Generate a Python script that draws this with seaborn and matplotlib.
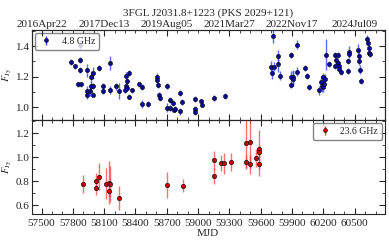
import numpy as np
import pandas as pd
import matplotlib
matplotlib.use("Agg")
import matplotlib.pyplot as plt
from matplotlib.ticker import MultipleLocator, FixedLocator
import seaborn as sns

title = "3FGL J2031.8+1223 (PKS 2029+121)"

mjd_48 = [57780, 57817, 57846, 57872, 57872, 57872, 57874, 57937, 57937, 57932,
          57966, 57970, 57975, 57997, 57997, 57997, 58055, 58090, 58090, 58153,
          58153, 58212, 58241, 58305, 58305, 58302, 58316, 58321, 58337, 58337,
          58369, 58431, 58458, 58458, 58522, 58609, 58611, 58612, 58630, 58635,
          58702, 58702, 58727, 58731, 58756, 58765, 58779, 58828, 58828, 58849,
          58969, 58969, 58969, 59024, 59041, 59156, 59255, 59722, 59703, 59729,
          59710, 59766, 59766, 59783, 59886, 59945, 59886, 59895, 59905, 59914,
          59946, 60020, 60042, 60058, 60154, 60178, 60186, 60196, 60196, 60207,
          60215, 60228, 60253, 60308, 60313, 60324, 60337, 60342, 60350, 60353,
          60366, 60433, 60438, 60447, 60449, 60534, 60539, 60541, 60551, 60564,
          60618, 60632, 60634, 60634, 60644]
flux_48 = [1.295, 1.268, 1.150, 1.408, 1.308, 1.241, 1.150, 1.241, 1.107, 1.082,
           1.107, 1.200, 1.140, 1.222, 1.137, 1.082, 1.259, 1.137, 1.107, 1.287,
           1.114, 1.136, 1.107, 1.207, 1.140, 1.113, 1.125, 1.174, 1.222, 1.069,
           1.111, 1.150, 1.135, 1.022, 1.022, 1.196, 1.180, 1.145, 1.080, 1.059,
           1.141, 0.998, 1.045, 0.997, 1.028, 0.985, 0.992, 1.095, 0.973, 1.035,
           1.056, 0.990, 0.967, 1.040, 1.017, 1.063, 1.072, 1.463, 1.264, 1.264,
           1.222, 1.335, 1.281, 1.207, 1.344, 1.410, 1.145, 1.198, 1.197, 1.187,
           1.233, 1.255, 1.207, 1.134, 1.110, 1.165, 1.140, 1.130, 1.196, 1.155,
           1.185, 1.344, 1.281, 1.344, 1.272, 1.311, 1.344, 1.287, 1.272, 1.250,
           1.229, 1.301, 1.238, 1.363, 1.347, 1.372, 1.335, 1.305, 1.247, 1.171,
           1.444, 1.422, 1.390, 1.357, 1.348]
err_48 = [0.020, 0.015, 0.015, 0.030, 0.020, 0.020, 0.015, 0.040, 0.030, 0.025,
          0.030, 0.040, 0.025, 0.040, 0.020, 0.015, 0.020, 0.020, 0.020, 0.045,
          0.025, 0.020, 0.050, 0.025, 0.025, 0.020, 0.020, 0.020, 0.020, 0.015,
          0.015, 0.015, 0.020, 0.025, 0.020, 0.030, 0.025, 0.020, 0.020, 0.020,
          0.020, 0.030, 0.020, 0.020, 0.020, 0.015, 0.015, 0.020, 0.020, 0.020,
          0.020, 0.020, 0.015, 0.015, 0.015, 0.020, 0.020, 0.040, 0.040, 0.030,
          0.040, 0.040, 0.050, 0.030, 0.020, 0.030, 0.020, 0.040, 0.050, 0.050,
          0.030, 0.020, 0.020, 0.020, 0.030, 0.040, 0.040, 0.030, 0.030, 0.030,
          0.030, 0.100, 0.020, 0.020, 0.020, 0.030, 0.020, 0.020, 0.020, 0.020,
          0.020, 0.020, 0.020, 0.040, 0.020, 0.040, 0.040, 0.030, 0.030, 0.020,
          0.030, 0.020, 0.020, 0.020, 0.020]

mjd_236 = [57901, 58023, 58023, 58055, 58122, 58151, 58155, 58151, 58241, 58702,
           58855, 59156, 59156, 59223, 59252, 59313, 59463, 59495, 59463, 59495,
           59559, 59588, 59588, 59588]
flux_236 = [0.775, 0.800, 0.742, 0.838, 0.780, 0.787, 0.776, 0.720, 0.660, 0.765,
            0.760, 0.974, 0.843, 0.952, 0.949, 0.960, 1.120, 1.130, 0.960, 0.940,
            0.995, 1.065, 1.040, 0.945]
err_236 = [0.075, 0.070, 0.060, 0.115, 0.130, 0.180, 0.150, 0.050, 0.100, 0.110,
           0.055, 0.080, 0.065, 0.070, 0.090, 0.075, 0.210, 0.220, 0.060, 0.080,
           0.075, 0.160, 0.060, 0.100]

top_ticks = [57500, 58100, 58700, 59300, 59900, 60500]
top_labels = ["2016Apr22", "2017Dec13", "2019Aug05", "2021Mar27", "2022Nov17", "2024Jul09"]
bottom_ticks = [57500, 57800, 58100, 58400, 58700, 59000, 59300, 59600, 59900, 60200, 60500]

sns.set_style("ticks")
plt.rcParams["font.family"] = ["Liberation Serif", "DejaVu Serif"]
plt.rcParams["mathtext.fontset"] = "stix"
plt.rcParams["font.size"] = 8
plt.rcParams["xtick.direction"] = "in"
plt.rcParams["ytick.direction"] = "in"

fig = plt.figure(figsize=(3.89, 2.41), dpi=100)
ax1 = fig.add_axes([0.0815, 0.502, 0.908, 0.3735])
ax2 = fig.add_axes([0.0815, 0.112, 0.908, 0.390], sharex=ax1)

df1 = pd.DataFrame({"mjd": mjd_48, "flux": flux_48, "err": err_48})
df2 = pd.DataFrame({"mjd": mjd_236, "flux": flux_236, "err": err_236})

ax1.errorbar(df1["mjd"], df1["flux"], yerr=df1["err"], fmt="none",
             ecolor="#3344ff", alpha=0.8, elinewidth=1.0, zorder=1)
sns.scatterplot(data=df1, x="mjd", y="flux", ax=ax1, color="#0a0a9a",
                edgecolor="black", linewidth=0.4, s=9, zorder=2, legend=False)
ax2.errorbar(df2["mjd"], df2["flux"], yerr=df2["err"], fmt="none",
             ecolor="#ff3333", alpha=0.7, elinewidth=1.0, zorder=1)
sns.scatterplot(data=df2, x="mjd", y="flux", ax=ax2, color="#cc0000",
                edgecolor="black", linewidth=0.4, s=10, zorder=2, legend=False)

# legend handles
h1 = ax1.errorbar([], [], yerr=[], fmt="o", color="#0a0a9a", ecolor="#3344ff",
                  ms=2.8, mec="black", mew=0.4, elinewidth=1.0)
h2 = ax2.errorbar([], [], yerr=[], fmt="o", color="#cc0000", ecolor="#ff3333",
                  ms=2.8, mec="black", mew=0.4, elinewidth=1.0)
leg1 = ax1.legend([h1], ["4.8 GHz"], loc="upper left", fontsize=7, frameon=True,
                  fancybox=True, borderpad=0.4, handlelength=1.6,
                  borderaxespad=0.3)
leg1.get_frame().set_edgecolor("0.4")
leg2 = ax2.legend([h2], ["23.6 GHz"], loc="upper right", fontsize=7, frameon=True,
                  fancybox=True, borderpad=0.4, handlelength=1.6,
                  borderaxespad=0.3)
leg2.get_frame().set_edgecolor("0.4")

ax1.set_xlim(57406, 60790)
ax1.set_ylim(0.917, 1.505)
ax2.set_ylim(0.525, 1.311)

ax2.xaxis.set_major_locator(FixedLocator(bottom_ticks))
ax2.xaxis.set_minor_locator(MultipleLocator(100))
ax1.yaxis.set_major_locator(FixedLocator([1.0, 1.2, 1.4]))
ax1.yaxis.set_minor_locator(MultipleLocator(0.1))
ax2.yaxis.set_major_locator(FixedLocator([0.6, 0.8, 1.0, 1.2]))
ax2.yaxis.set_minor_locator(MultipleLocator(0.1))

for ax in (ax1, ax2):
    ax.tick_params(which="both", direction="in", top=True, right=True, labelsize=8)
    ax.tick_params(which="major", length=4, width=0.8)
    ax.tick_params(which="minor", length=2, width=0.6)
    ax.tick_params(axis="y", pad=1.5)
    ax.set_ylabel(r"$F_{\rm Jy}$", fontsize=7.5)
    ax.yaxis.set_label_coords(-0.05, 0.5)
    for s in ax.spines.values():
        s.set_linewidth(0.8)
ax1.tick_params(labelbottom=False)
ax2.set_xlabel("MJD", fontsize=8, labelpad=1)

axt = ax1.twiny()
axt.set_xlim(ax1.get_xlim())
axt.xaxis.set_major_locator(FixedLocator(top_ticks))
axt.xaxis.set_minor_locator(MultipleLocator(100))
axt.set_xticklabels(top_labels)
axt.tick_params(which="both", direction="in", labelsize=8, pad=1)
axt.tick_params(which="major", length=4)
axt.tick_params(which="minor", length=2)
axt.set_title(title, fontsize=8, pad=3)

fig.savefig("out.png", dpi=100)
